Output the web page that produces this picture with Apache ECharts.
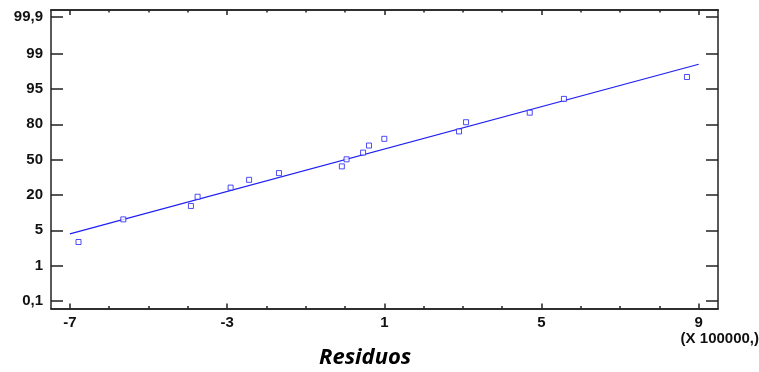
<!DOCTYPE html>
<html>
<head>
<meta charset="utf-8">
<script src="https://cdn.jsdelivr.net/npm/echarts@6/dist/echarts.min.js"></script>
<style>
  html, body { margin: 0; padding: 0; background: #fff; }
  #chart { width: 759px; height: 372px; }
</style>
</head>
<body>
<div id="chart"></div>
<script>
// residuals (x 100000) and their plotting positions on the probability scale
const residuals = [-6.78, -5.64, -3.92, -3.75, -2.91, -2.44, -1.68, -0.08, 0.04, 0.46, 0.61, 1.00, 2.90, 3.08, 4.70, 5.57, 8.70];
const positions = [1.67, 2.31, 2.69, 2.95, 3.21, 3.43, 3.62, 3.81, 4.01, 4.20, 4.40, 4.59, 4.80, 5.06, 5.33, 5.72, 6.34];

// fitted reference line
const fitX = [-7, 9];
const fitY = [1.90, 6.70];

// axis ticks
const xMajorTicks = [-7, -3, 1, 5, 9];
const xMinorTicks = [-7, -6, -5, -4, -3, -2, -1, 0, 1, 2, 3, 4, 5, 6, 7, 8, 9];
const yTickPos = [0, 1, 2, 3, 4, 5, 6, 7, 8.05];
const yTickLabels = ["0,1", "1", "5", "20", "50", "80", "95", "99", "99,9"];

const FRAME = "#222";
const BLUE = "#1f1ff5";
const labelFont = { color: "#111", fontFamily: "Liberation Sans", fontWeight: "bold", fontSize: 15 };

const chart = echarts.init(document.getElementById("chart"), null, { renderer: "canvas" });

function xAxisDef(position, ticks, len, showLabel) {
  return {
    type: "value",
    position: position,
    min: -7.48,
    max: 9.49,
    splitLine: { show: false },
    axisLine: { show: true, onZero: false, lineStyle: { color: FRAME, width: 1.5 } },
    axisTick: { show: true, inside: true, length: len, customValues: ticks, lineStyle: { color: FRAME, width: 1.5 } },
    axisLabel: showLabel
      ? Object.assign({ show: true, margin: 7, customValues: xMajorTicks, formatter: v => String(v) }, labelFont)
      : { show: false },
  };
}

function yAxisDef(position, showLabel) {
  return {
    type: "value",
    position: position,
    min: -0.212,
    max: 8.236,
    splitLine: { show: false },
    axisLine: { show: true, onZero: false, lineStyle: { color: FRAME, width: 1.5 } },
    axisTick: { show: true, inside: true, length: 12, customValues: yTickPos, lineStyle: { color: FRAME, width: 1.5 } },
    axisLabel: showLabel
      ? Object.assign({
          show: true, margin: 8, customValues: yTickPos,
          formatter: v => yTickLabels[yTickPos.indexOf(v)] || "",
        }, labelFont)
      : { show: false },
  };
}

chart.setOption({
  animation: false,
  backgroundColor: "#fff",
  grid: { left: 51, right: 41, top: 10, bottom: 63.5, containLabel: false },
  xAxis: [
    xAxisDef("bottom", xMajorTicks, 5, true),
    xAxisDef("bottom", xMinorTicks, 2.5, false),
    xAxisDef("top", xMajorTicks, 5, false),
    xAxisDef("top", xMinorTicks, 2.5, false),
  ],
  yAxis: [
    yAxisDef("left", true),
    yAxisDef("right", false),
  ],
  series: [
    {
      type: "line",
      data: fitX.map((x, i) => [x, fitY[i]]),
      symbol: "none",
      lineStyle: { color: BLUE, width: 1.2 },
      z: 2,
    },
    {
      type: "scatter",
      data: residuals.map((x, i) => [x, positions[i]]),
      symbol: "rect",
      symbolSize: 5,
      itemStyle: { color: "#fff", borderColor: BLUE, borderWidth: 1 },
      z: 3,
    },
  ],
  graphic: [
    {
      type: "text",
      right: 0,
      top: 331,
      style: { text: "(X 100000,)", fill: "#111", font: "bold 15px 'Liberation Sans'", letterSpacing: 0.5 },
    },
    {
      type: "text",
      left: 319,
      top: 347,
      style: { text: "Residuos", fill: "#000", font: "italic bold 22px 'Open Sans'" },
    },
  ],
});
</script>
</body>
</html>
